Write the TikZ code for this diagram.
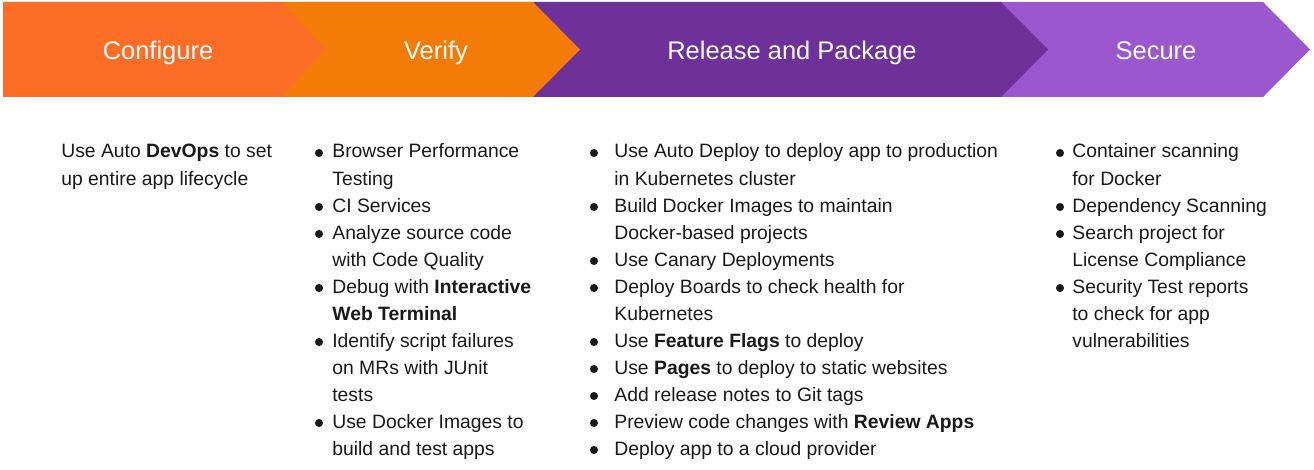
\documentclass[tikz,border=0pt]{standalone}
\usepackage{fontspec}
\setmainfont{Liberation Sans}
\definecolor{cfgcol}{HTML}{FC6D26}
\definecolor{vercol}{HTML}{F47B07}
\definecolor{relcol}{HTML}{6E3099}
\definecolor{seccol}{HTML}{9B57CE}

\begin{document}
\begin{tikzpicture}[x=0.2mm, y=-0.2mm,
		head/.style={text=white, font=\fontsize{14.5}{17}\selectfont, anchor=base, inner sep=0pt},
		body/.style={text=black!90, font=\fontsize{11}{15.4}\selectfont, anchor=base west, inner sep=0pt}]
	\useasboundingbox (0,0) rectangle (1314,470);
	% chevron band, drawn back to front
	\fill[seccol] (1000,2) -- (1263,2) -- (1310,49.5) -- (1263,97) -- (1000,97) -- cycle;
	\fill[relcol] (533,2) -- (1001,2) -- (1048,49.5) -- (1001,97) -- (533,97) -- cycle;
	\fill[vercol] (282,2) -- (533,2) -- (580,49.5) -- (533,97) -- (282,97) -- cycle;
	\fill[cfgcol] (3,2) -- (282,2) -- (326,49.5) -- (282,97) -- (3,97) -- cycle;
	\node[head] (cfg) at (158,60) {Configure};
	\node[head] (ver) at (436,60) {Verify};
	\node[head] (rel) at (792,60) {Release and Package};
	\node[head] (sec) at (1156,60) {Secure};
	% configure
	\node[body] (cfg-0) at (61,158) {Use Auto \textbf{DevOps} to set};
	\node[body] (cfg-1) at (61,185) {up entire app lifecycle};
	% verify
	\foreach \t [count=\i from 0] in {Browser Performance, Testing, CI Services,
			Analyze source code, with Code Quality, Debug with \textbf{Interactive},
			\textbf{Web Terminal}, Identify script failures, on MRs with JUnit, tests,
			Use Docker Images to, build and test apps}
		\node[body] (ver-\i) at (332, 158+27*\i) {\t};
	\foreach \i in {0,2,3,5,7,10}
		\fill[black!90] (319, 153+27*\i) circle (2.3pt);
	% release and package
	\foreach \t [count=\i from 0] in {Use Auto Deploy to deploy app to production,
			in Kubernetes cluster, Build Docker Images to maintain, Docker-based projects,
			Use Canary Deployments, Deploy Boards to check health for, Kubernetes,
			Use \textbf{Feature Flags} to deploy, Use \textbf{Pages} to deploy to static websites,
			Add release notes to Git tags, Preview code changes with \textbf{Review Apps},
			Deploy app to a cloud provider}
		\node[body] (rel-\i) at (614, 158+27*\i) {\t};
	\foreach \i in {0,2,4,5,7,8,9,10,11}
		\fill[black!90] (594, 153+27*\i) circle (2.3pt);
	% secure
	\foreach \t [count=\i from 0] in {Container scanning, for Docker, Dependency Scanning,
			Search project for, License Compliance, Security Test reports,
			to check for app, vulnerabilities}
		\node[body] (sec-\i) at (1072, 158+27*\i) {\t};
	\foreach \i in {0,2,3,5}
		\fill[black!90] (1060, 153+27*\i) circle (2.3pt);
\end{tikzpicture}
\end{document}
